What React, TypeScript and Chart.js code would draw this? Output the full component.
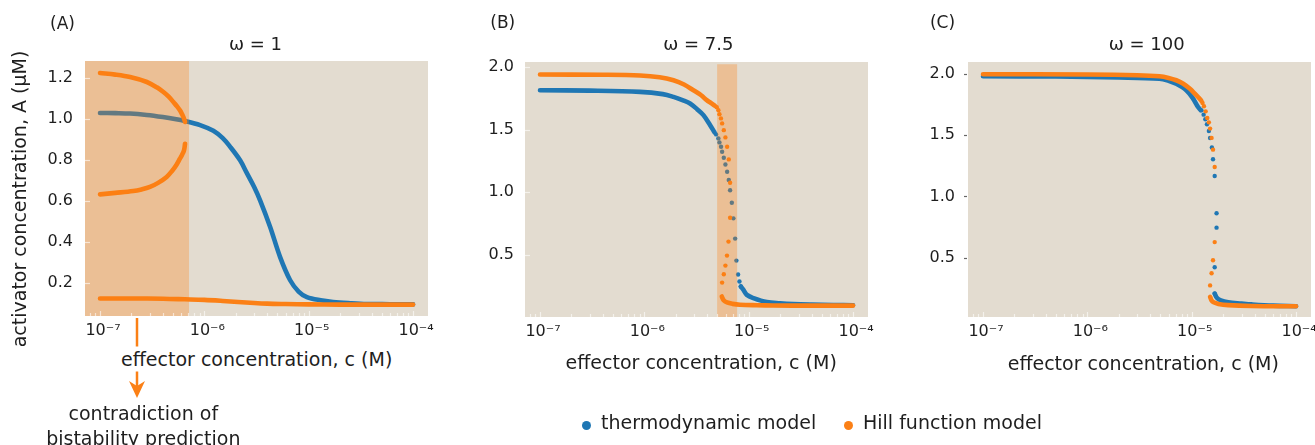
import React, { useEffect, useRef } from 'react';
import { Chart, registerables } from 'chart.js';

Chart.register(...registerables);

type Pt = [number, number];

// ---------- axes / tick data ----------
const xRange: Pt = [7.18e-8, 1.39e-4];
const xMajorTicks = [1e-7, 1e-6, 1e-5, 1e-4];
const xMajorLabels = ['10⁻⁷', '10⁻⁶', '10⁻⁵', '10⁻⁴'];
const xMinorDecades = [1e-8, 1e-7, 1e-6, 1e-5, 1e-4];
const xMinorMultipliers = [2, 3, 4, 5, 6, 7, 8, 9];

const yTicksA = [0.2, 0.4, 0.6, 0.8, 1.0, 1.2];
const yTicksBC = [0.5, 1.0, 1.5, 2.0];
const yRangeA: Pt = [0.0405, 1.2845];
const yRangeB: Pt = [0.003, 2.042];
const yRangeC: Pt = [0.015, 2.098];

// ---------- texts ----------
const panelLabels = ['(A)', '(B)', '(C)'];
const panelTitles = ['ω = 1', 'ω = 7.5', 'ω = 100'];
const xAxisTitle = 'effector concentration, c (M)';
const yAxisTitle = 'activator concentration, A (μM)';
const legendLabels = ['thermodynamic model', 'Hill function model'];
const annotationLines = ['contradiction of', 'bistability prediction'];

// ---------- panel A (ω = 1) ----------
const thermoA: Pt[] = [
  [1.0e-7, 1.031], [1.4e-7, 1.030], [1.94e-7, 1.028], [2.8e-7, 1.021], [4.0e-7, 1.011],
  [5.2e-7, 1.002], [6.53e-7, 0.992], [9.1e-7, 0.972], [1.22e-6, 0.944], [1.5e-6, 0.908],
  [1.76e-6, 0.867], [2.2e-6, 0.80], [2.54e-6, 0.74], [3.0e-6, 0.67], [3.42e-6, 0.605],
  [4.27e-6, 0.475], [5.32e-6, 0.328], [6.64e-6, 0.215], [8.0e-6, 0.160], [9.6e-6, 0.133],
  [1.3e-5, 0.117], [1.71e-5, 0.109], [2.5e-5, 0.103], [3.6e-5, 0.099], [6.0e-5, 0.098],
  [1.0e-4, 0.097],
];
const hillA_upper: Pt[] = [
  [1.0e-7, 1.226], [1.4e-7, 1.218], [1.94e-7, 1.206], [2.81e-7, 1.182], [3.5e-7, 1.156],
  [4.05e-7, 1.133], [4.6e-7, 1.108], [5.05e-7, 1.084], [5.5e-7, 1.062], [5.83e-7, 1.044],
  [6.07e-7, 1.028], [6.3e-7, 1.011], [6.45e-7, 0.997], [6.53e-7, 0.987],
];
const hillA_middle: Pt[] = [
  [6.53e-7, 0.881], [6.38e-7, 0.849], [6.07e-7, 0.824], [5.83e-7, 0.808], [5.43e-7, 0.78],
  [4.9e-7, 0.748], [4.35e-7, 0.719], [3.6e-7, 0.69], [3.01e-7, 0.670], [2.5e-7, 0.658],
  [2.08e-7, 0.650], [1.4e-7, 0.641], [1.0e-7, 0.634],
];
const hillA_lower: Pt[] = [
  [1.0e-7, 0.126], [2.0e-7, 0.126], [4.0e-7, 0.125], [6.5e-7, 0.122], [1.0e-6, 0.119],
  [1.5e-6, 0.114], [2.1e-6, 0.109], [3.0e-6, 0.104], [4.0e-6, 0.101], [6.0e-6, 0.099],
  [1.0e-5, 0.097], [2.0e-5, 0.096], [1.0e-4, 0.096],
];

// ---------- panel B (ω = 7.5) ----------
const thermoB_line: Pt[] = [
  [1.0e-7, 1.816], [3.0e-7, 1.813], [9.1e-7, 1.803], [1.5e-6, 1.785], [1.9e-6, 1.763],
  [2.35e-6, 1.735], [2.74e-6, 1.71], [3.2e-6, 1.665], [3.68e-6, 1.617], [4.27e-6, 1.537],
  [4.7e-6, 1.48],
];
const thermoB_dots: Pt[] = [
  [4.87e-6, 1.463], [5.12e-6, 1.431], [5.24e-6, 1.399], [5.43e-6, 1.364], [5.56e-6, 1.324],
  [5.77e-6, 1.276], [5.98e-6, 1.223], [6.21e-6, 1.164], [6.44e-6, 1.098], [6.63e-6, 1.016],
  [6.89e-6, 0.917], [7.13e-6, 0.792], [7.41e-6, 0.630], [7.62e-6, 0.454], [7.91e-6, 0.343],
  [8.15e-6, 0.287], [8.4e-6, 0.247],
];
const thermoB_tail: Pt[] = [
  [8.4e-6, 0.247], [8.9e-6, 0.22], [9.6e-6, 0.18], [1.11e-5, 0.154], [1.49e-5, 0.122],
  [2.0e-5, 0.112], [2.68e-5, 0.106], [4.0e-5, 0.102], [6.45e-5, 0.099], [1.0e-4, 0.097],
];
const hillB_upper: Pt[] = [
  [1.0e-7, 1.942], [4.0e-7, 1.940], [9.1e-7, 1.934], [1.4e-6, 1.92], [1.9e-6, 1.896],
  [2.4e-6, 1.862], [2.95e-6, 1.816], [3.5e-6, 1.776], [3.96e-6, 1.737], [4.4e-6, 1.712],
  [4.77e-6, 1.69],
];
const hillB_dots: Pt[] = [
  [4.94e-6, 1.68], [5.12e-6, 1.657], [5.24e-6, 1.625], [5.42e-6, 1.591], [5.56e-6, 1.551],
  [5.77e-6, 1.497], [5.98e-6, 1.439], [6.21e-6, 1.364], [6.44e-6, 1.263], [6.63e-6, 1.077],
  [6.63e-6, 0.797], [6.4e-6, 0.606], [6.19e-6, 0.494], [5.98e-6, 0.414], [5.77e-6, 0.345],
  [5.56e-6, 0.278],
];
const hillB_lower: Pt[] = [
  [5.52e-6, 0.167], [5.75e-6, 0.137], [6.19e-6, 0.119], [7.0e-6, 0.108], [8.25e-6, 0.101],
  [1.2e-5, 0.097], [1.72e-5, 0.095], [3.88e-5, 0.094], [1.0e-4, 0.094],
];

// ---------- panel C (ω = 100) ----------
const thermoC_line: Pt[] = [
  [1.0e-7, 1.981], [5.0e-7, 1.979], [2.0e-6, 1.972], [4.9e-6, 1.962], [6.0e-6, 1.945],
  [7.1e-6, 1.92], [8.87e-6, 1.867], [1.03e-5, 1.799], [1.15e-5, 1.73], [1.22e-5, 1.705],
];
const thermoC_dots: Pt[] = [
  [1.24e-5, 1.703], [1.30e-5, 1.668], [1.35e-5, 1.630], [1.40e-5, 1.589], [1.46e-5, 1.534],
  [1.50e-5, 1.477], [1.56e-5, 1.399], [1.60e-5, 1.303], [1.66e-5, 1.167], [1.73e-5, 0.862],
  [1.73e-5, 0.745], [1.66e-5, 0.421], [1.66e-5, 0.206],
];
const thermoC_tail: Pt[] = [
  [1.66e-5, 0.206], [1.75e-5, 0.17], [1.9e-5, 0.15], [2.24e-5, 0.135], [3.0e-5, 0.125],
  [3.76e-5, 0.118], [6.0e-5, 0.108], [1.0e-4, 0.103],
];
const hillC_line: Pt[] = [
  [1.0e-7, 1.998], [1.0e-6, 1.996], [3.0e-6, 1.99], [4.9e-6, 1.981], [6.0e-6, 1.968],
  [7.1e-6, 1.949], [8.3e-6, 1.92], [9.55e-6, 1.881], [1.07e-5, 1.84], [1.15e-5, 1.812],
  [1.24e-5, 1.78],
];
const hillC_dots: Pt[] = [
  [1.27e-5, 1.763], [1.31e-5, 1.736], [1.36e-5, 1.695], [1.41e-5, 1.64], [1.46e-5, 1.605],
  [1.50e-5, 1.554], [1.55e-5, 1.478], [1.60e-5, 1.382], [1.66e-5, 1.240], [1.66e-5, 0.627],
  [1.60e-5, 0.478], [1.55e-5, 0.372], [1.50e-5, 0.273],
];
const hillC_lower: Pt[] = [
  [1.50e-5, 0.180], [1.55e-5, 0.150], [1.62e-5, 0.135], [1.8e-5, 0.122], [2.24e-5, 0.112],
  [3.76e-5, 0.105], [1.0e-4, 0.103],
];

// shaded bistable regions: [xFrom, xTo, yTop]
const shadeA: [number, number, number] = [7.18e-8, 7.13e-7, 1.2845];
const shadeB: [number, number, number] = [4.98e-6, 7.74e-6, 2.024];

// ---------- styles ----------
const FONT = '"DejaVu Sans", "Noto Sans", sans-serif';
const TEXT = '#1e1e1e';
const BLUE = '#1f77b4';
const ORANGE = '#fb8016';
const BG = '#E3DCD0';
const SHADE = 'rgba(255,127,14,0.30)';
const PALE = 'rgba(255,255,255,0.6)';

type PanelDef = {
  key: string;
  thermoLines: Pt[][];
  thermoDots: Pt[];
  hillLines: Pt[][];
  hillDots: Pt[];
  yTicks: number[];
  yRange: Pt;
  shade: [number, number, number] | null;
  yTicksOutside: boolean;
  box: { left: number; width: number; height: number; padTop: number; padRight: number; yAxisW: number; chartBottom: number; yPad: number };
};

const panels: PanelDef[] = [
  {
    key: 'A', thermoLines: [thermoA], thermoDots: [], hillLines: [hillA_upper, hillA_middle, hillA_lower], hillDots: [],
    yTicks: yTicksA, yRange: yRangeA, shade: shadeA, yTicksOutside: false,
    box: { left: 0, width: 440, height: 345, padTop: 61, padRight: 12, yAxisW: 85, chartBottom: 316, yPad: 12 },
  },
  {
    key: 'B', thermoLines: [thermoB_line, thermoB_tail], thermoDots: thermoB_dots, hillLines: [hillB_upper, hillB_lower], hillDots: hillB_dots,
    yTicks: yTicksBC, yRange: yRangeB, shade: shadeB, yTicksOutside: false,
    box: { left: 440, width: 440, height: 345, padTop: 62, padRight: 12, yAxisW: 85, chartBottom: 317, yPad: 11 },
  },
  {
    key: 'C', thermoLines: [thermoC_line, thermoC_tail], thermoDots: thermoC_dots, hillLines: [hillC_line, hillC_lower], hillDots: hillC_dots,
    yTicks: yTicksBC, yRange: yRangeC, shade: null, yTicksOutside: true,
    box: { left: 875, width: 440, height: 345, padTop: 62, padRight: 4, yAxisW: 93, chartBottom: 317, yPad: 13 },
  },
];

const xMinorTicks: number[] = [];
xMinorDecades.forEach((d) => xMinorMultipliers.forEach((m) => {
  const v = d * m;
  if (v > xRange[0] && v < xRange[1]) xMinorTicks.push(v);
}));

function makeDeco(p: PanelDef) {
  return {
    id: 'deco' + p.key,
    beforeDraw(chart: any) {
      const { ctx, chartArea: a } = chart;
      ctx.save();
      ctx.fillStyle = BG;
      ctx.fillRect(a.left, a.top, a.right - a.left, a.bottom - a.top);
      ctx.restore();
    },
    afterDatasetsDraw(chart: any) {
      if (!p.shade) return;
      const { ctx, chartArea: a, scales } = chart;
      const x0 = Math.max(a.left, scales.x.getPixelForValue(p.shade[0]));
      const x1 = Math.min(a.right, scales.x.getPixelForValue(p.shade[1]));
      const y0 = Math.max(a.top, scales.y.getPixelForValue(p.shade[2]));
      ctx.save();
      ctx.fillStyle = SHADE;
      ctx.fillRect(x0, y0, x1 - x0, a.bottom - y0);
      ctx.restore();
    },
    afterDraw(chart: any) {
      const { ctx, chartArea: a, scales } = chart;
      ctx.save();
      ctx.lineWidth = 1.2;
      for (const v of p.yTicks) {
        const y = Math.round(scales.y.getPixelForValue(v)) + 0.5;
        ctx.beginPath();
        if (p.yTicksOutside) {
          ctx.strokeStyle = '#666';
          ctx.moveTo(a.left - 4, y);
          ctx.lineTo(a.left - 1, y);
        } else {
          ctx.strokeStyle = PALE;
          ctx.moveTo(a.left, y);
          ctx.lineTo(a.left + 5, y);
        }
        ctx.stroke();
      }
      ctx.strokeStyle = PALE;
      for (const v of xMinorTicks) {
        const x = Math.round(scales.x.getPixelForValue(v)) + 0.5;
        ctx.beginPath();
        ctx.moveTo(x, a.bottom);
        ctx.lineTo(x, a.bottom - 3);
        ctx.stroke();
      }
      for (const v of xMajorTicks) {
        const x = Math.round(scales.x.getPixelForValue(v)) + 0.5;
        ctx.beginPath();
        ctx.moveTo(x, a.bottom);
        ctx.lineTo(x, a.bottom - 5);
        ctx.stroke();
      }
      ctx.restore();
    },
  };
}

function makeConfig(p: PanelDef): any {
  const toXY = (pts: Pt[]) => pts.map(([x, y]) => ({ x, y }));
  const lineDs = (pts: Pt[], color: string, order: number) => ({
    data: toXY(pts), showLine: true, borderColor: color, backgroundColor: color,
    borderWidth: 4.6, pointRadius: 0, pointHoverRadius: 0, tension: 0.35,
    borderCapStyle: 'round', borderJoinStyle: 'round', order,
  });
  const dotDs = (pts: Pt[], color: string, order: number) => ({
    data: toXY(pts), showLine: false, pointRadius: 2.2, pointHoverRadius: 2.2,
    pointBorderWidth: 0, backgroundColor: color, borderColor: color, order,
  });
  const datasets: any[] = [];
  p.hillLines.forEach((l) => datasets.push(lineDs(l, ORANGE, 0)));
  if (p.hillDots.length) datasets.push(dotDs(p.hillDots, ORANGE, 0));
  p.thermoLines.forEach((l) => datasets.push(lineDs(l, BLUE, 1)));
  if (p.thermoDots.length) datasets.push(dotDs(p.thermoDots, BLUE, 1));

  const b = p.box;
  return {
    type: 'scatter',
    data: { datasets },
    plugins: [makeDeco(p)],
    options: {
      animation: false,
      responsive: false,
      events: [],
      layout: { padding: { top: b.padTop, right: b.padRight, left: 0, bottom: 0 } },
      plugins: { legend: { display: false }, tooltip: { enabled: false }, title: { display: false } },
      scales: {
        x: {
          type: 'logarithmic', min: xRange[0], max: xRange[1],
          grid: { display: false, drawTicks: false }, border: { display: false },
          afterBuildTicks: (s: any) => { s.ticks = xMajorTicks.map((v) => ({ value: v, major: true })); },
          afterFit: (s: any) => { s.height = b.height - b.chartBottom; s.paddingLeft = 0; s.paddingRight = 0; },
          ticks: {
            autoSkip: false, maxRotation: 0, minRotation: 0, padding: 5, labelOffset: 3,
            color: TEXT, font: { family: FONT, size: 16 },
            callback: (v: any) => {
              const i = xMajorTicks.findIndex((m) => Math.abs(m - Number(v)) / m < 1e-6);
              return i >= 0 ? xMajorLabels[i] : '';
            },
          },
        },
        y: {
          type: 'linear', min: p.yRange[0], max: p.yRange[1],
          grid: { display: false, drawTicks: false }, border: { display: false },
          afterBuildTicks: (s: any) => { s.ticks = p.yTicks.map((v) => ({ value: v })); },
          afterFit: (s: any) => { s.width = b.yAxisW; s.paddingTop = 0; s.paddingBottom = 0; },
          ticks: {
            autoSkip: false, padding: b.yPad, color: TEXT, font: { family: FONT, size: 16 },
            callback: (v: any) => Number(v).toFixed(1),
          },
        },
      },
    },
  };
}

function Panel({ p }: { p: PanelDef }) {
  const ref = useRef<HTMLCanvasElement | null>(null);
  useEffect(() => {
    if (!ref.current) return;
    const chart = new Chart(ref.current, makeConfig(p));
    return () => chart.destroy();
  }, [p]);
  return (
    <canvas
      ref={ref}
      width={p.box.width}
      height={p.box.height}
      style={{ position: 'absolute', left: p.box.left, top: 0, width: p.box.width, height: p.box.height, display: 'block' }}
    />
  );
}

// text placement (centres, px)
const LAYOUT = {
  panelLabelPos: [[62.5, 22.5], [502.8, 22], [942.5, 22]],
  titlePos: [[255.5, 43.5], [698.3, 43.5], [1146.7, 43.5]],
  xTitlePos: [[256.7, 359.2], [701.2, 361.9], [1143.3, 363]],
  yTitlePos: [19, 198.5],
  annotationPos: [[143.3, 412.6], [143.3, 438]],
};

function Label({ x, y, size, text, rotate, bg }: { x: number; y: number; size: number; text: string; rotate?: boolean; bg?: boolean }) {
  return (
    <div
      style={{
        position: 'absolute', left: x, top: y,
        transform: `translate(-50%, -50%)${rotate ? ' rotate(-90deg)' : ''}`,
        fontSize: size, lineHeight: 1, whiteSpace: 'nowrap', color: TEXT, fontFamily: FONT,
        background: bg ? '#fff' : 'transparent', padding: bg ? '3px 2px' : 0,
      }}
    >
      {text}
    </div>
  );
}

export default function App() {
  return (
    <div style={{ position: 'absolute', left: 0, top: 0, width: 1315, height: 445, overflow: 'hidden', background: '#fff', fontFamily: FONT }}>
      {panels.map((p) => <Panel key={p.key} p={p} />)}
      <svg width={1315} height={445} style={{ position: 'absolute', left: 0, top: 0, pointerEvents: 'none' }}>
        <line x1={137} y1={318} x2={137} y2={386} stroke={ORANGE} strokeWidth={2.5} />
        <path d="M 129 381 L 137 386 L 145 381 L 137 398 Z" fill={ORANGE} />
      </svg>
      {panelLabels.map((t, i) => (
        <Label key={'pl' + i} x={LAYOUT.panelLabelPos[i][0]} y={LAYOUT.panelLabelPos[i][1]} size={17} text={t} />
      ))}
      {panelTitles.map((t, i) => (
        <Label key={'pt' + i} x={LAYOUT.titlePos[i][0]} y={LAYOUT.titlePos[i][1]} size={18} text={t} />
      ))}
      {LAYOUT.xTitlePos.map((pos, i) => (
        <Label key={'xt' + i} x={pos[0]} y={pos[1]} size={19} text={xAxisTitle} bg={i === 0} />
      ))}
      <Label x={LAYOUT.yTitlePos[0]} y={LAYOUT.yTitlePos[1]} size={19} text={yAxisTitle} rotate />
      {annotationLines.map((t, i) => (
        <Label key={'an' + i} x={LAYOUT.annotationPos[i][0]} y={LAYOUT.annotationPos[i][1]} size={19} text={t} />
      ))}
      <div style={{ position: 'absolute', left: 581.5, top: 420.5, width: 9, height: 9, borderRadius: '50%', background: BLUE }} />
      <div style={{ position: 'absolute', left: 601, top: 413, fontSize: 19, lineHeight: 1, whiteSpace: 'nowrap', color: TEXT }}>{legendLabels[0]}</div>
      <div style={{ position: 'absolute', left: 843.5, top: 420.5, width: 9, height: 9, borderRadius: '50%', background: ORANGE }} />
      <div style={{ position: 'absolute', left: 863, top: 413, fontSize: 19, lineHeight: 1, whiteSpace: 'nowrap', color: TEXT }}>{legendLabels[1]}</div>
    </div>
  );
}
